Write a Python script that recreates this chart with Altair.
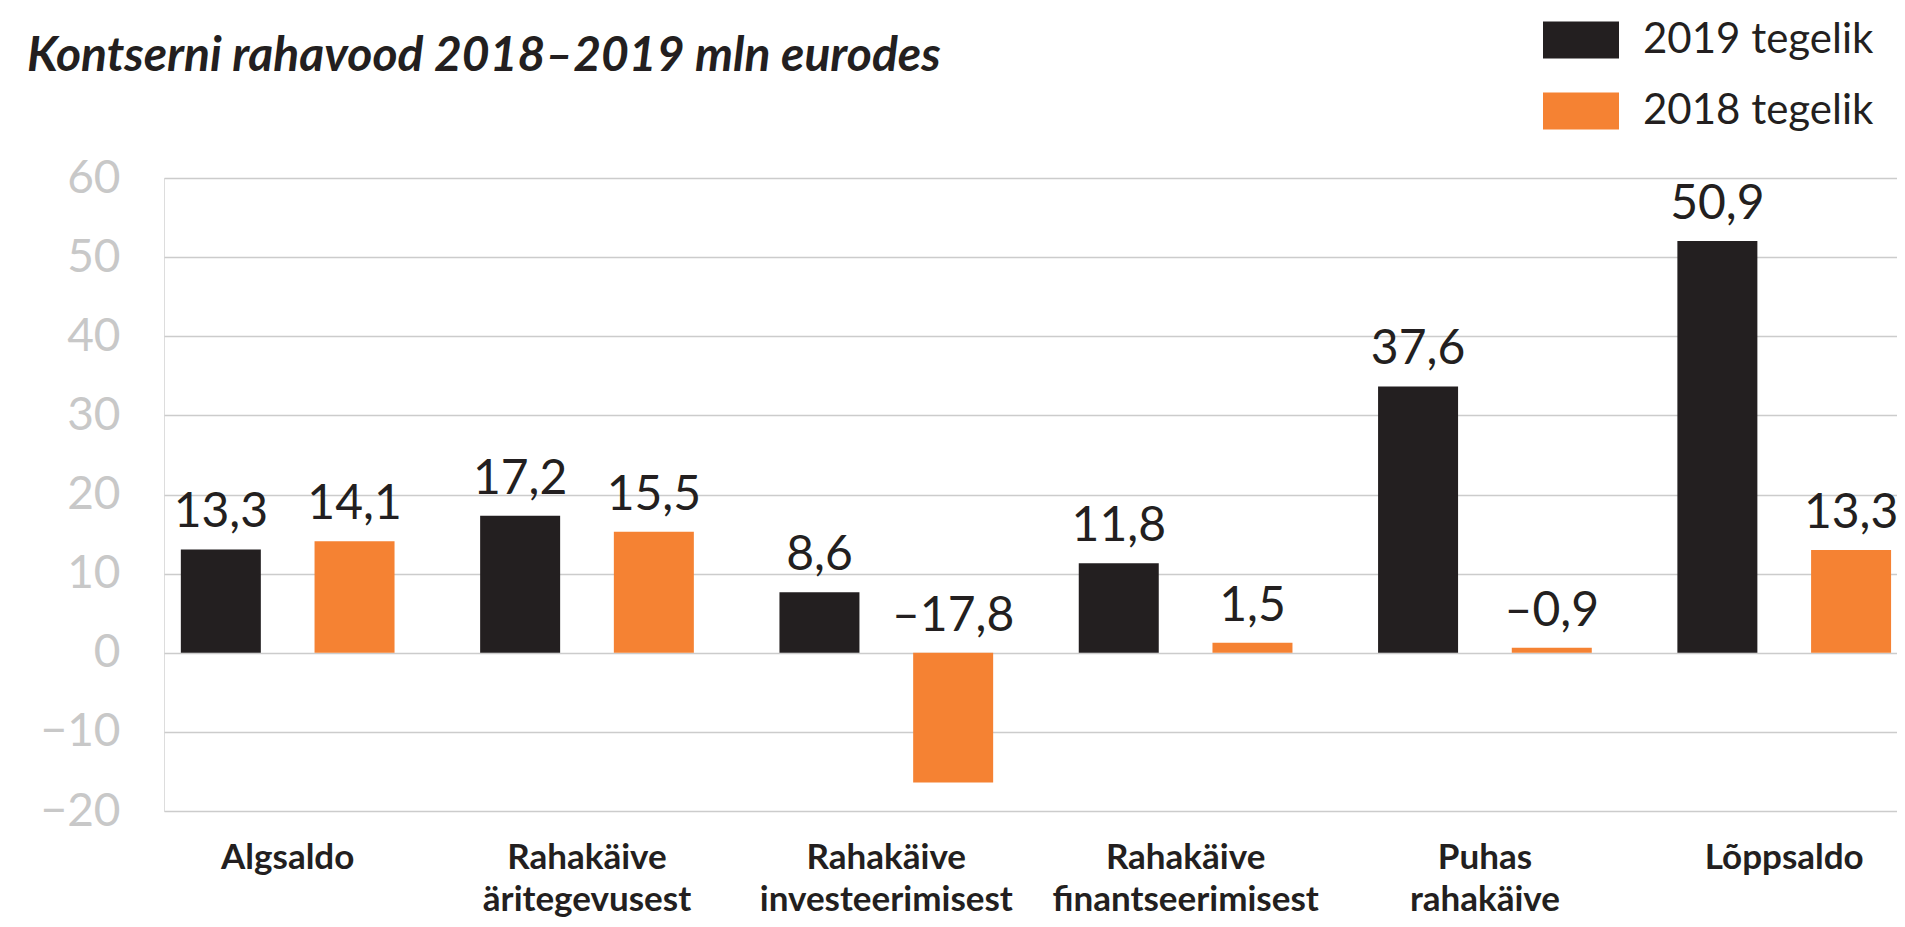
import altair as alt
import pandas as pd

# ---- data ----
categories = [
    "Algsaldo",
    "Rahakäive\näritegevusest",
    "Rahakäive\ninvesteerimisest",
    "Rahakäive\nfinantseerimisest",
    "Puhas\nrahakäive",
    "Lõppsaldo",
]
series = ["2019 tegelik", "2018 tegelik"]
values_2019 = [13.05, 17.3, 7.65, 11.3, 33.65, 52.05]
values_2018 = [14.1, 15.3, -16.4, 1.26, 0.63, 13.0]
labels_2019 = ["13,3", "17,2", "8,6", "11,8", "37,6", "50,9"]
labels_2018 = ["14,1", "15,5", "–17,8", "1,5", "–0,9", "13,3"]
y_ticks = [-20, -10, 0, 10, 20, 30, 40, 50, 60]
colors = ["#231f20", "#f58233"]
title_text = "Kontserni rahavood 2018–2019 mln eurodes"

rows = []
for i, c in enumerate(categories):
    rows.append({"category": c, "series": series[0], "value": values_2019[i], "label": labels_2019[i]})
    rows.append({"category": c, "series": series[1], "value": values_2018[i], "label": labels_2018[i]})
df = pd.DataFrame(rows)

x_enc = alt.X(
    "category:N",
    sort=categories,
    scale=alt.Scale(paddingInner=0.286, paddingOuter=0.038, align=0.74, round=False),
    axis=alt.Axis(
        title=None,
        labelExpr="split(datum.label, '\\n')",
        labelAngle=0,
        labelFont="Lato",
        labelFontWeight="bold",
        labelFontSize=35,
        labelLineHeight=42,
        labelColor="#231f20",
        labelPadding=29,
        ticks=False,
        tickSize=0,
        domain=False,
        grid=False,
        labelLimit=400,
    ),
)
xoff_enc = alt.XOffset("series:N", sort=series, scale=alt.Scale(paddingInner=0.4017, paddingOuter=0))

y_scale = alt.Scale(domain=[-20, 60], nice=False, zero=False)
y_axis = alt.Axis(
    title=None,
    values=y_ticks,
    grid=True,
    gridColor="#cccccc",
    gridWidth=1.5,
    domain=False,
    ticks=False,
    tickSize=0,
    labelFont="Lato",
    labelFontSize=46,
    labelColor="#c8c8c8",
    labelPadding=44,
)

bars = alt.Chart(df).mark_bar(strokeWidth=0).encode(
    x=x_enc,
    xOffset=xoff_enc,
    y=alt.Y("value:Q", scale=y_scale, axis=y_axis),
    color=alt.Color(
        "series:N",
        sort=series,
        scale=alt.Scale(domain=series, range=colors),
        legend=alt.Legend(
            title=None,
            orient="none",
            legendX=1379,
            legendY=-176,
            symbolType="M-1,-0.487L1,-0.487L1,0.487L-1,0.487Z",
            symbolSize=5776,
            symbolStrokeWidth=0,
            symbolOpacity=1,
            labelFont="Lato",
            labelFontSize=42,
            labelColor="#231f20",
            labelOffset=24,
            rowPadding=12,
            padding=0,
            labelLimit=400,
        ),
    ),
)

texts = alt.Chart(df).transform_calculate(
    ypos="max(datum.value, 0)"
).mark_text(
    font="Lato", fontSize=48, color="#231f20", baseline="alphabetic", align="center", dy=-22
).encode(
    x=x_enc,
    xOffset=xoff_enc,
    y=alt.Y("ypos:Q", scale=y_scale, axis=y_axis),
    text="label:N",
)

chart = (
    alt.layer(bars, texts)
    .properties(
        width=1733,
        height=633,
        autosize=alt.AutoSizeParams(type="none"),
        padding={"left": 156, "top": 170, "right": 0, "bottom": 106},
        title=alt.TitleParams(
            text=title_text,
            anchor="start",
            frame="group",
            font="Lato",
            fontSize=48,
            fontStyle="italic",
            fontWeight="bold",
            color="#231f20",
            dx=-137,
            offset=-117,
            baseline="alphabetic",
        ),
    )
    .configure_view(strokeWidth=0)
    .configure(background="white")
)

chart.save("out.html", embed_options={"renderer": "svg", "actions": False})
